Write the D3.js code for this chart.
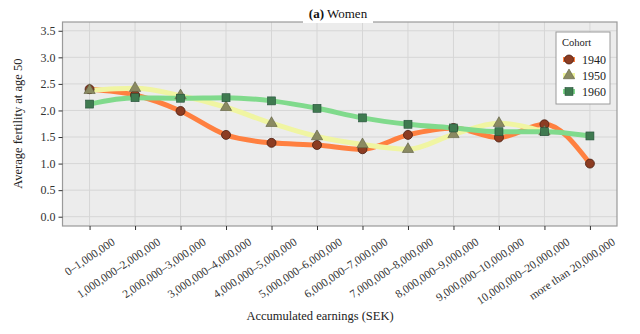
<!DOCTYPE html>
<html>
<head>
<meta charset="utf-8">
<script src="https://cdn.jsdelivr.net/npm/d3@7"></script>
<style>
  body { margin: 0; background: #fff; }
</style>
</head>
<body>
<svg id="chart" width="640" height="334"></svg>
<script>
let categories = ["0\u20131,000,000", "1,000,000\u20132,000,000", "2,000,000\u20133,000,000",
  "3,000,000\u20134,000,000", "4,000,000\u20135,000,000", "5,000,000\u20136,000,000",
  "6,000,000\u20137,000,000", "7,000,000\u20138,000,000", "8,000,000\u20139,000,000",
  "9,000,000\u201310,000,000", "10,000,000\u201320,000,000", "more than 20,000,000"];

let cohort1940 = [2.40, 2.29, 1.99, 1.54, 1.39, 1.35, 1.27, 1.54, 1.67, 1.49, 1.74, 1.00];
let cohort1950 = [2.38, 2.42, 2.28, 2.06, 1.76, 1.51, 1.36, 1.27, 1.55, 1.76, 1.60, null];
let cohort1960 = [2.12, 2.24, 2.23, 2.24, 2.18, 2.04, 1.86, 1.74, 1.67, 1.60, 1.60, 1.52];

let yTicks = [0, 0.5, 1, 1.5, 2, 2.5, 3, 3.5];

let series = [
  {name: "1940", values: cohort1940, line: "#ff8040", fill: "#8c3c22", stroke: "#4a1e10", shape: "circle"},
  {name: "1950", values: cohort1950, line: "#f0f5a2", fill: "#8a8a62", stroke: "#5a5a3c", shape: "triangle"},
  {name: "1960", values: cohort1960, line: "#80da8c", fill: "#3f7a50", stroke: "#25503a", shape: "square"}
];

let serif = "Liberation Serif, Times New Roman, Times, DejaVu Serif, serif";
let svg = d3.select("#chart").attr("font-family", serif);
let margin = {left: 62.5, right: 23, top: 22, bottom: 108};
let width = 640 - margin.left - margin.right;
let height = 334 - margin.top - margin.bottom;

let x = d3.scalePoint().domain(categories).range([0, width]).padding(0.595);
let y = d3.scaleLinear().domain([-0.175, 3.665]).range([height, 0]);

let g = svg.append("g").attr("transform", "translate(" + margin.left + "," + margin.top + ")");

g.append("rect").attr("width", width).attr("height", height).style("fill", "#ececec");

// grid
g.selectAll(".hgrid").data(yTicks).enter().append("line")
  .attr("x1", 0).attr("x2", width)
  .attr("y1", d => y(d)).attr("y2", d => y(d))
  .style("stroke", "#d6d6d6").style("stroke-width", 1);
g.selectAll(".vgrid").data(categories).enter().append("line")
  .attr("x1", d => x(d)).attr("x2", d => x(d))
  .attr("y1", 0).attr("y2", height)
  .style("stroke", "#d6d6d6").style("stroke-width", 1);

// frame
g.append("rect").attr("width", width).attr("height", height)
  .style("fill", "none").style("stroke", "#9a9a9a").style("stroke-width", 1.2);

// axes
let yAxis = g.append("g").call(d3.axisLeft(y).tickValues(yTicks).tickFormat(d3.format(".1f")).tickSize(4).tickPadding(3));
yAxis.attr("font-family", serif);
yAxis.select(".domain").remove();
yAxis.selectAll("line").style("stroke", "#333");
yAxis.selectAll("text").style("font-size", "12px").style("fill", "#333");

let xAxis = g.append("g").attr("transform", "translate(0," + height + ")")
  .call(d3.axisBottom(x).tickSize(4));
xAxis.attr("font-family", serif);
xAxis.select(".domain").remove();
xAxis.selectAll("line").style("stroke", "#333");
// labels: end of text sits up and to the right of the tick
xAxis.selectAll("text")
  .style("font-size", "11.5px").style("fill", "#333")
  .style("text-anchor", "end")
  .attr("x", 0).attr("y", 0).attr("dx", 0).attr("dy", "0.72em")
  .attr("transform", "translate(21,11) rotate(-34)");

// lines
let line = d3.line()
  .defined(d => d.v != null)
  .x(d => x(d.c)).y(d => y(d.v))
  .curve(d3.curveMonotoneX);

series.forEach(function(s){
  let pts = s.values.map((v, i) => ({c: categories[i], v: v}));
  g.append("path").datum(pts)
    .attr("d", line)
    .style("fill", "none").style("stroke", s.line).style("stroke-width", 5)
    .style("stroke-linecap", "round").style("stroke-linejoin", "round");
});

function drawMarker(sel, s, cx, cy){
  if(s.shape == "circle"){
    sel.append("circle").attr("cx", cx).attr("cy", cy).attr("r", 4.5)
      .style("fill", s.fill).style("stroke", s.stroke).style("stroke-width", 0.8);
  } else if(s.shape == "triangle"){
    sel.append("path").attr("transform", "translate(" + cx + "," + cy + ")")
      .attr("d", d3.symbol().type(d3.symbolTriangle).size(55))
      .style("fill", s.fill).style("stroke", s.stroke).style("stroke-width", 0.6);
  } else {
    sel.append("rect").attr("x", cx - 4).attr("y", cy - 4).attr("width", 8).attr("height", 8)
      .style("fill", s.fill).style("stroke", s.stroke).style("stroke-width", 0.6);
  }
}

series.forEach(function(s){
  s.values.forEach(function(v, i){
    if(v == null) return;
    drawMarker(g, s, x(categories[i]), y(v));
  });
});

// legend
let legend = svg.append("g").attr("transform", "translate(556,32)");
legend.append("rect").attr("width", 54).attr("height", 72)
  .style("fill", "#fff").style("stroke", "#9a9a9a").style("stroke-width", 1);
legend.append("text").attr("x", 6).attr("y", 14).text("Cohort")
  .style("font-size", "10.5px").style("fill", "#222");
series.forEach(function(s, i){
  let ly = 27.5 + i * 16;
  legend.append("line").attr("x1", 7).attr("x2", 19).attr("y1", ly).attr("y2", ly)
    .style("stroke", s.line).style("stroke-width", 5);
  drawMarker(legend, s, 13, ly);
  legend.append("text").attr("x", 26).attr("y", ly + 4).text(s.name)
    .style("font-size", "12px").style("fill", "#222");
});

// title with white background
let title = svg.append("g");
title.append("rect").attr("x", 303).attr("y", 0).attr("width", 70).attr("height", 23).style("fill", "#fff");
let tt = title.append("text").attr("x", 338).attr("y", 18).style("text-anchor", "middle")
  .style("font-size", "13px").style("fill", "#111");
tt.append("tspan").style("font-weight", "bold").text("(a)");
tt.append("tspan").text(" Women");

// axis titles
svg.append("text").attr("transform", "translate(22," + (margin.top + y(1.75)) + ") rotate(-90)")
  .style("text-anchor", "middle").style("font-size", "12.5px").style("fill", "#222")
  .text("Average fertility at age 50");
svg.append("text").attr("x", 320).attr("y", 320)
  .style("text-anchor", "middle").style("font-size", "12.5px").style("fill", "#222")
  .text("Accumulated earnings (SEK)");
</script>
</body>
</html>
